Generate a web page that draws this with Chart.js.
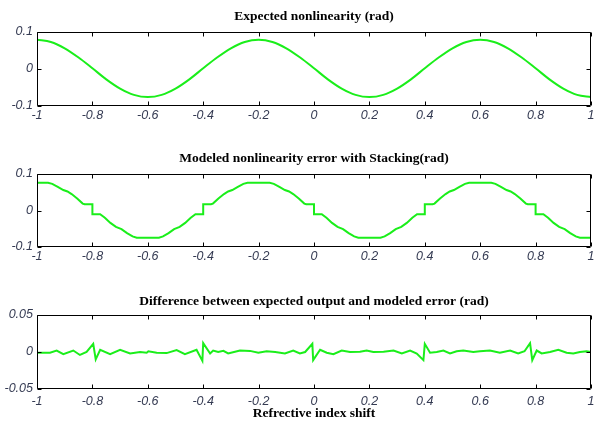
<!DOCTYPE html>
<html>
<head>
<meta charset="utf-8">
<script src="https://cdn.jsdelivr.net/npm/chart.js@4.4.1/dist/chart.umd.min.js"></script>
<style>
  html, body { margin: 0; padding: 0; background: #ffffff; }
  #wrap { position: relative; width: 594px; height: 423px; overflow: hidden; background: #ffffff; }
  canvas { position: absolute; left: 0; }
</style>
</head>
<body>
<div id="wrap">
  <canvas id="expected" width="594" height="130" style="top:0px"></canvas>
  <canvas id="modeled" width="594" height="140" style="top:130px"></canvas>
  <canvas id="difference" width="594" height="153" style="top:270px"></canvas>
</div>
<script>
"use strict";

// Axis ticks
var xTickValues = [-1, -0.8, -0.6, -0.4, -0.2, 0, 0.2, 0.4, 0.6, 0.8, 1];
var xTickLabels = ["-1", "-0.8", "-0.6", "-0.4", "-0.2", "0", "0.2", "0.4", "0.6", "0.8", "1"];
var yTickValuesA = [-0.1, 0, 0.1];
var yTickLabelsA = ["-0.1", "0", "0.1"];
var yTickValuesB = [-0.05, 0, 0.05];
var yTickLabelsB = ["-0.05", "0", "0.05"];

// Expected nonlinearity (rad)
var expectedX = [-1, -0.95, -0.9, -0.85, -0.8, -0.75, -0.7, -0.65, -0.6, -0.55, -0.5, -0.45, -0.4, -0.35,
    -0.3, -0.25, -0.2, -0.15, -0.1, -0.05, 0, 0.05, 0.1, 0.15, 0.2, 0.25, 0.3, 0.35, 0.4, 0.45,
    0.5, 0.55, 0.6, 0.65, 0.7, 0.75, 0.8, 0.85, 0.9, 0.95, 1];
var expectedY = [0.079, 0.073, 0.056, 0.031, 0.002, -0.028, -0.053, -0.070, -0.076, -0.070, -0.053, -0.028, 0.002, 0.031,
    0.056, 0.073, 0.079, 0.073, 0.056, 0.031, 0.002, -0.028, -0.053, -0.070, -0.076, -0.070, -0.053, -0.028, 0.002, 0.031,
    0.056, 0.073, 0.079, 0.073, 0.056, 0.031, 0.002, -0.028, -0.053, -0.070, -0.076];

// Modeled nonlinearity error with Stacking (rad)
var modeledX = [-1, -0.96, -0.945, -0.925, -0.905, -0.89, -0.875, -0.855, -0.835, -0.828, -0.8, -0.8, -0.772, -0.755,
    -0.735, -0.715, -0.695, -0.675, -0.655, -0.64, -0.6, -0.56, -0.545, -0.525, -0.505, -0.485, -0.465, -0.445,
    -0.428, -0.4, -0.4, -0.372, -0.365, -0.345, -0.325, -0.31, -0.295, -0.275, -0.255, -0.24,
    -0.2, -0.16, -0.145, -0.125, -0.105, -0.09, -0.075, -0.055, -0.035, -0.028, 0, 0, 0.028, 0.045,
    0.065, 0.085, 0.105, 0.125, 0.145, 0.16, 0.2, 0.24, 0.255, 0.275, 0.295, 0.315, 0.335, 0.355,
    0.372, 0.4, 0.4, 0.428, 0.435, 0.455, 0.475, 0.49, 0.505, 0.525, 0.545, 0.56,
    0.6, 0.64, 0.655, 0.675, 0.695, 0.71, 0.725, 0.745, 0.765, 0.772, 0.8, 0.8, 0.828, 0.845,
    0.865, 0.885, 0.905, 0.925, 0.945, 0.96, 1];
var modeledY = [0.076, 0.076, 0.073, 0.065, 0.056, 0.052, 0.045, 0.033, 0.019, 0.017, 0.017, -0.010, -0.010, -0.020,
    -0.034, -0.045, -0.051, -0.062, -0.071, -0.0745, -0.0745, -0.0745, -0.071, -0.062, -0.051, -0.045, -0.034, -0.020,
    -0.010, -0.010, 0.017, 0.017, 0.019, 0.033, 0.045, 0.052, 0.056, 0.065, 0.073, 0.076,
    0.076, 0.076, 0.073, 0.065, 0.056, 0.052, 0.045, 0.033, 0.019, 0.017, 0.017, -0.010, -0.010, -0.020,
    -0.034, -0.045, -0.051, -0.062, -0.071, -0.0745, -0.0745, -0.0745, -0.071, -0.062, -0.051, -0.045, -0.034, -0.020,
    -0.010, -0.010, 0.017, 0.017, 0.019, 0.033, 0.045, 0.052, 0.056, 0.065, 0.073, 0.076,
    0.076, 0.076, 0.073, 0.065, 0.056, 0.052, 0.045, 0.033, 0.019, 0.017, 0.017, -0.010, -0.010, -0.020,
    -0.034, -0.045, -0.051, -0.062, -0.071, -0.0745, -0.0745];

// Difference between expected output and modeled error (rad)
var diffX = [-1, -0.953, -0.929, -0.905, -0.869, -0.845, -0.821, -0.797, -0.788, -0.772, -0.736, -0.7, -0.664,
    -0.628, -0.604, -0.598, -0.568, -0.532, -0.496, -0.466, -0.424, -0.403, -0.4, -0.375, -0.364, -0.346,
    -0.327, -0.31, -0.267, -0.231, -0.201, -0.171, -0.14, -0.105, -0.075, -0.051, -0.032, -0.006, -0.003,
    0.022, 0.046, 0.07, 0.1, 0.13, 0.166, 0.19, 0.214, 0.251, 0.287, 0.317, 0.347, 0.371, 0.395, 0.4,
    0.419, 0.443, 0.467, 0.491, 0.515, 0.539, 0.575, 0.599, 0.635, 0.671, 0.708, 0.737, 0.76, 0.78, 0.788,
    0.804, 0.822, 0.852, 0.882, 0.912, 0.936, 0.96, 0.984, 1];
var diffY = [-0.001, -0.001, 0.002, -0.003, 0.002, -0.004, 0.000, 0.011, -0.010, 0.003, -0.003, 0.003, -0.002,
    0.000, -0.001, 0.001, -0.001, -0.0015, 0.0025, -0.003, 0.003, -0.012, 0.012, -0.002, 0.002, 0.000,
    0.0015, -0.002, 0.002, 0.0015, -0.001, 0.001, 0.000, -0.002, 0.002, -0.002, 0.000, 0.011, -0.011,
    0.003, -0.001, -0.003, 0.002, 0.000, 0.0005, 0.002, 0.000, 0.0005, 0.002, -0.002, 0.002, -0.002, -0.011, 0.011,
    -0.001, 0.000, 0.002, -0.002, 0.001, 0.002, 0.000, 0.001, 0.002, -0.001, 0.002, -0.002, 0.001, 0.012, -0.011,
    0.002, -0.002, 0.000, 0.003, -0.001, -0.002, 0.000, 0.001, 0.000];


var lineColor = "#1aee1a";
var tickColor = "#343a52";
var tickFont = { family: "'Liberation Sans', Arial, sans-serif", style: "italic", size: 12.5 };
var titleFont = { family: "'Liberation Serif', 'Times New Roman', serif", weight: "bold", size: 13.5 };

function points(xs, ys) {
    return xs.map(function (v, i) {
        return { x: v, y: ys[i] };
    });
}

// Box round the plot with inward tick marks (matlab style)
var framePlugin = {
    id: "frame",
    afterDatasetsDraw: function (chart) {
        var ctx = chart.ctx;
        var a = chart.chartArea;
        var xs = chart.scales.x;
        var ys = chart.scales.y;
        var l = Math.round(a.left) + 0.5, r = Math.round(a.right) - 0.5;
        var t = Math.round(a.top) + 0.5, b = Math.round(a.bottom) - 0.5;
        ctx.save();
        ctx.strokeStyle = "#000000";
        ctx.lineWidth = 1;
        ctx.beginPath();
        ctx.rect(l, t, r - l, b - t);
        xs.ticks.forEach(function (tk) {
            var px = Math.round(xs.getPixelForValue(tk.value)) + 0.5;
            ctx.moveTo(px, b); ctx.lineTo(px, b - 4);
            ctx.moveTo(px, t); ctx.lineTo(px, t + 4);
        });
        ys.ticks.forEach(function (tk) {
            var py = Math.round(ys.getPixelForValue(tk.value)) + 0.5;
            ctx.moveTo(l, py); ctx.lineTo(l + 4, py);
            ctx.moveTo(r, py); ctx.lineTo(r - 4, py);
        });
        ctx.stroke();
        ctx.restore();
    }
};

function makeChart(id, cfg) {
    var ctx = document.getElementById(id).getContext("2d");
    return new Chart(ctx, {
        type: "line",
        data: {
            datasets: [{
                data: points(cfg.xs, cfg.ys),
                borderColor: lineColor,
                borderWidth: 2,
                pointRadius: 0,
                fill: false,
                tension: cfg.smooth ? 0.4 : 0,
                cubicInterpolationMode: cfg.smooth ? "monotone" : "default"
            }]
        },
        options: {
            responsive: false,
            animation: false,
            layout: { padding: { left: 0, right: 3, top: 0, bottom: 0 } },
            plugins: {
                legend: { display: false },
                tooltip: { enabled: false },
                title: {
                    display: true,
                    text: cfg.title,
                    font: titleFont,
                    color: "#000000",
                    fullSize: false,
                    padding: { top: cfg.titleTop, bottom: cfg.titleBottom }
                }
            },
            scales: {
                x: {
                    type: "linear",
                    min: -1,
                    max: 1,
                    grid: { display: false, drawTicks: false },
                    border: { display: false },
                    afterBuildTicks: function (scale) {
                        scale.ticks = xTickValues.map(function (v) { return { value: v }; });
                    },
                    afterFit: function (scale) {
                        scale.height = cfg.xHeight;
                        scale.paddingLeft = 0;
                        scale.paddingRight = 0;
                    },
                    ticks: {
                        autoSkip: false,
                        maxRotation: 0,
                        padding: cfg.xPad,
                        color: tickColor,
                        font: tickFont,
                        callback: function (value, index) { return xTickLabels[index]; }
                    },
                    title: {
                        display: !!cfg.xTitle,
                        text: cfg.xTitle || "",
                        font: titleFont,
                        color: "#000000",
                        padding: { top: 0, bottom: 1 }
                    }
                },
                y: {
                    type: "linear",
                    min: cfg.yTicks[0],
                    max: cfg.yTicks[cfg.yTicks.length - 1],
                    grid: { display: false, drawTicks: false },
                    border: { display: false },
                    afterBuildTicks: function (scale) {
                        scale.ticks = cfg.yTicks.map(function (v) { return { value: v }; });
                    },
                    afterFit: function (scale) { scale.width = 37; },
                    ticks: {
                        padding: 4,
                        color: tickColor,
                        font: tickFont,
                        callback: function (value, index) { return cfg.yLabels[index]; }
                    }
                }
            }
        },
        plugins: [framePlugin]
    });
}


// Expected nonlinearity
makeChart("expected", {
    xs: expectedX, ys: expectedY, smooth: true,
    title: "Expected nonlinearity (rad)", titleTop: 8.1, titleBottom: 7.7,
    xHeight: 24, xPad: 2,
    yTicks: yTickValuesA, yLabels: yTickLabelsA
});

// Modeled error
makeChart("modeled", {
    xs: modeledX, ys: modeledY, smooth: false,
    title: "Modeled nonlinearity error with Stacking(rad)", titleTop: 20.4, titleBottom: 7.4,
    xHeight: 23, xPad: 2,
    yTicks: yTickValuesA, yLabels: yTickLabelsA
});

// Difference
makeChart("difference", {
    xs: diffX, ys: diffY, smooth: false,
    title: "Difference between expected output and modeled error (rad)", titleTop: 23.4, titleBottom: 5.4,
    xHeight: 34, xPad: 5, xTitle: "Refrective index shift",
    yTicks: yTickValuesB, yLabels: yTickLabelsB
});
</script>
</body>
</html>
